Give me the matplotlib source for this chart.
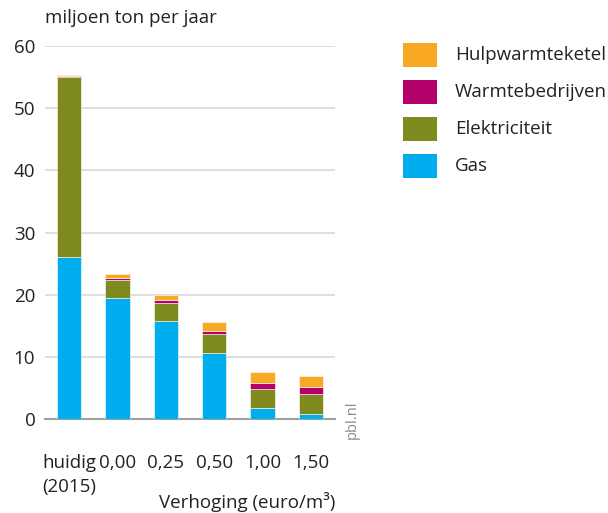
import matplotlib
matplotlib.use("Agg")
import matplotlib.pyplot as plt
from matplotlib.patches import Rectangle
import numpy as np

plt.rcParams['font.family'] = ['Open Sans', 'DejaVu Sans']

categories = ["huidig\n(2015)", "0,00", "0,25", "0,50", "1,00", "1,50"]
gas = [26.0, 19.5, 15.75, 10.6, 1.7, 0.85]
elektriciteit = [29.0, 2.8, 2.9, 3.0, 3.15, 3.25]
warmtebedrijven = [0.1, 0.4, 0.55, 0.55, 1.0, 1.1]
hulpwarmteketel = [0.3, 0.55, 0.8, 1.5, 1.65, 1.75]

series = [("Gas", gas, "#00AEEF"),
          ("Elektriciteit", elektriciteit, "#7F8A1E"),
          ("Warmtebedrijven", warmtebedrijven, "#B3006B"),
          ("Hulpwarmteketel", hulpwarmteketel, "#F9A823")]

FS = 13.5
TXT = '#222222'
W, H = 608, 513
fig = plt.figure(figsize=(W/100, H/100), dpi=100)
ax = fig.add_axes([45/W, 1-419/H, 290/W, 373/H])

x = np.arange(len(categories))
bottom = np.zeros(len(categories))
for name, vals, col in series:
    ax.bar(x, vals, width=0.5, bottom=bottom, color=col, edgecolor='white', linewidth=0.4, zorder=3)
    bottom += np.array(vals)

ax.set_xlim(-0.5, 5.5)
ax.set_ylim(0, 60)
ax.set_yticks([0, 10, 20, 30, 40, 50, 60])
ax.yaxis.grid(True, color='#d9d9d9', linewidth=1.2, zorder=0)
ax.set_axisbelow(True)
for s in ['top', 'right', 'left']:
    ax.spines[s].set_visible(False)
ax.spines['bottom'].set_color('#a0a0a0')
ax.spines['bottom'].set_linewidth(1.5)
ax.tick_params(axis='both', length=0, labelsize=FS, colors=TXT)
ax.tick_params(axis='y', pad=7)
ax.set_xticks(x)
ax.set_xticklabels(categories, va='top')
for lbl in ax.get_xticklabels():
    lbl.set_multialignment('left')
    lbl.set_linespacing(1.45)
ax.tick_params(axis='x', pad=25)

fig.text(45/W, 1-18/H, "miljoen ton per jaar", fontsize=FS, ha='left', va='center', color=TXT)
fig.text(335/W, 1-502/H, "Verhoging (euro/m³)", fontsize=FS, ha='right', va='center', color=TXT)
fig.text(352/W, 1-420/H, "pbl.nl", fontsize=10.5, rotation=90, ha='center', va='center', color='#8a8a8a')

# legend (manual, top to bottom)
for i, (name, vals, col) in enumerate(series[::-1]):
    top = 43 + i * 37
    fig.add_artist(Rectangle((403/W, 1-(top+24)/H), 34/W, 24/H, transform=fig.transFigure,
                             facecolor=col, edgecolor='none'))
    fig.text(455/W, 1-(top+12)/H, name, fontsize=FS, ha='left', va='center', color=TXT)

fig.savefig("out.png", dpi=100)
